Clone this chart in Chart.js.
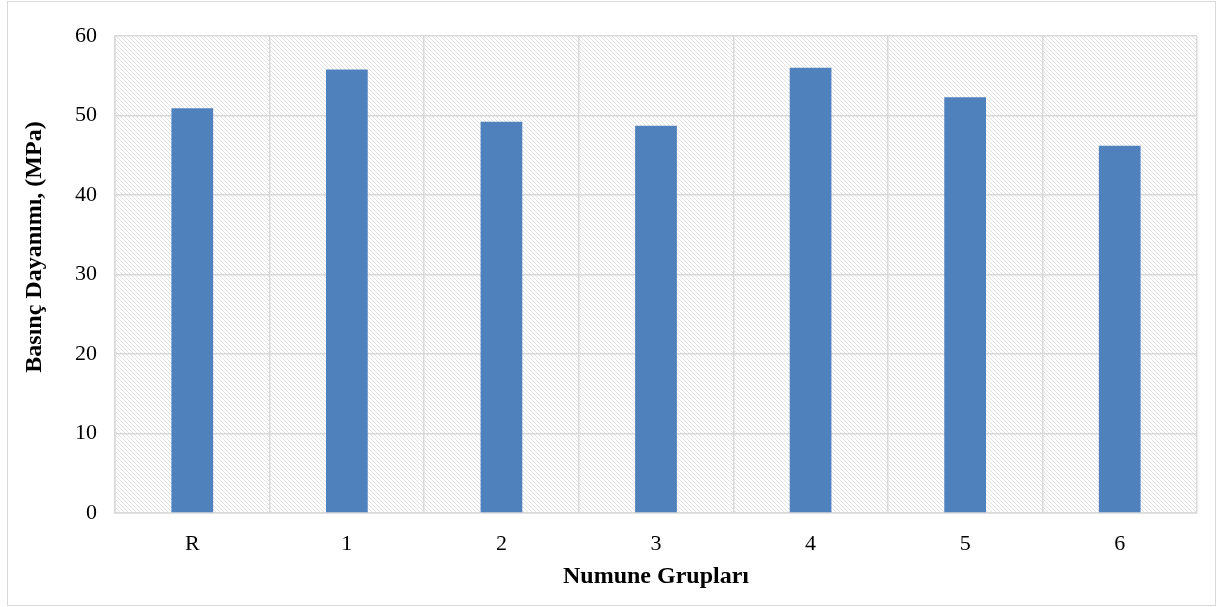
<!DOCTYPE html>
<html>
<head>
<meta charset="utf-8">
<script src="https://cdn.jsdelivr.net/npm/chart.js@4/dist/chart.umd.min.js"></script>
<style>
  html, body { margin: 0; padding: 0; background: #fff; }
  #wrap { width: 1217px; height: 607px; position: relative; }
</style>
</head>
<body>
<div id="wrap"><canvas id="myChart"></canvas></div>
<script>
const groups = ['R', '1', '2', '3', '4', '5', '6'];
const strength = [50.9, 55.8, 49.2, 48.7, 56.0, 52.3, 46.2];
const yTicks = [0, 10, 20, 30, 40, 50, 60];
const yTitle = 'Basınç Dayanımı, (MPa)';

// diagonal hatch tile for the plot area
const makeHatch = () => {
    const tile = document.createElement('canvas');
    tile.width = 4;
    tile.height = 4;
    const c = tile.getContext('2d');
    c.fillStyle = '#ffffff';
    c.fillRect(0, 0, 4, 4);
    c.strokeStyle = '#dedede';
    c.lineWidth = 0.9;
    c.beginPath();
    c.moveTo(-1, -1); c.lineTo(5, 5);
    c.moveTo(-1, 3); c.lineTo(1, 5);
    c.moveTo(3, -1); c.lineTo(5, 1);
    c.stroke();
    return tile;
};

const hatchPlugin = {
    id: 'hatch',
    beforeDraw(chart) {
        const { ctx, chartArea } = chart;
        ctx.save();
        ctx.fillStyle = '#ffffff';
        ctx.fillRect(0, 0, chart.width, chart.height);
        ctx.strokeStyle = '#d9d9d9';
        ctx.lineWidth = 1;
        ctx.strokeRect(7.5, 1.5, 1208, 604);
        ctx.fillStyle = ctx.createPattern(makeHatch(), 'repeat');
        ctx.fillRect(chartArea.left, chartArea.top, chartArea.right - chartArea.left, chartArea.bottom - chartArea.top);
        ctx.restore();
    },
    // y title sits a bit above the plot's middle in the original
    afterDraw(chart) {
        const { ctx } = chart;
        ctx.save();
        ctx.translate(35, 247);
        ctx.rotate(-Math.PI / 2);
        ctx.font = 'bold 24px "Liberation Serif"';
        ctx.fillStyle = '#000';
        ctx.textAlign = 'center';
        ctx.textBaseline = 'middle';
        ctx.fillText(yTitle, 0, 0);
        ctx.restore();
    }
};

const dataChart = {
    labels: groups,
    datasets: [
        {
            label: 'Basınç Dayanımı',
            data: strength,
            backgroundColor: '#4f81bd',
            barPercentage: 0.27,
            categoryPercentage: 1,
        },
    ],
};

const configChart = {
    type: 'bar',
    data: dataChart,
    plugins: [hatchPlugin],
    options: {
        responsive: true,
        maintainAspectRatio: false,
        animation: false,
        layout: { padding: { left: 20, right: 20, top: 36, bottom: 16 } },
        plugins: {
            legend: { display: false },
            tooltip: { enabled: false },
        },
        scales: {
            x: {
                grid: { color: '#d9d9d9', lineWidth: 1.5, drawTicks: false, offset: true },
                border: { color: '#d9d9d9', width: 1.5 },
                ticks: {
                    color: '#000',
                    padding: 18,
                    font: { family: 'Liberation Serif', size: 22 },
                },
                title: {
                    display: true,
                    text: 'Numune Grupları',
                    color: '#000',
                    padding: 0,
                    font: { family: 'Liberation Serif', size: 24, weight: 'bold' },
                },
                afterFit: scale => { scale.height = 78; },
            },
            y: {
                min: 0,
                max: 60,
                afterBuildTicks: scale => {
                    scale.ticks = yTicks.map(v => ({ value: v }));
                },
                grid: { color: '#d9d9d9', lineWidth: 1.5, drawTicks: false },
                border: { color: '#d9d9d9', width: 1.5 },
                ticks: {
                    color: '#000',
                    padding: 18,
                    font: { family: 'Liberation Serif', size: 22 },
                },
                title: { display: false },
                afterFit: scale => { scale.width = 95; },
            },
        },
    },
};

const myChart = new Chart(document.getElementById('myChart'), configChart);
</script>
</body>
</html>
